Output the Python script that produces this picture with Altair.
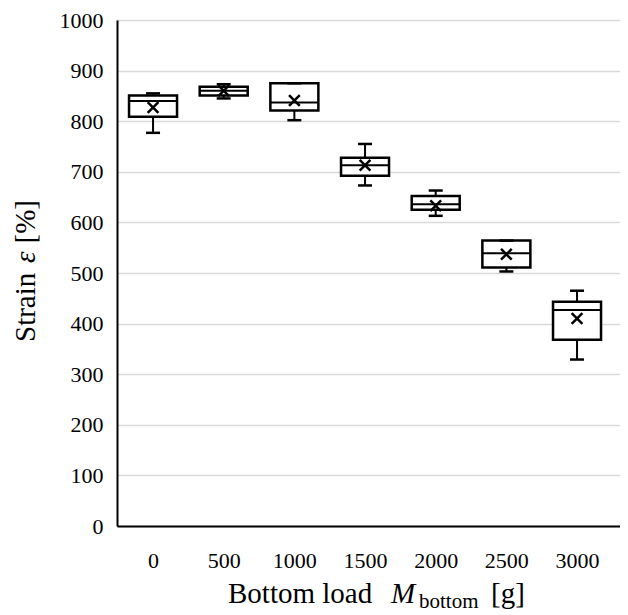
import altair as alt
import pandas as pd

# ---- data ----
loads = [0, 500, 1000, 1500, 2000, 2500, 3000]
whisker_low = [777, 845, 802, 673, 613, 503, 329]
q1 = [809, 851, 821, 692, 625, 511, 368]
median = [840, 860, 837, 713, 636, 539, 427]
q3 = [851, 868, 875, 728, 652, 564, 443]
whisker_high = [855, 873, 875, 755, 663, 564, 465]
mean = [827, 860, 841, 713, 633, 537, 410]
y_ticks = list(range(0, 1001, 100))

df = pd.DataFrame({
    "load": loads, "lo": whisker_low, "q1": q1, "med": median,
    "q3": q3, "hi": whisker_high, "mean": mean,
})

FONT = "Liberation Serif"

x_scale = alt.Scale(domain=[-255, 3304], nice=False, zero=False)
y_scale = alt.Scale(domain=[0, 1000], nice=False)

x_axis = alt.Axis(values=loads, format="d", title=None, grid=False,
                  ticks=False, labelPadding=24, labelFlush=False,
                  labelFont=FONT, labelFontSize=22, labelColor="black",
                  domainColor="black", domainWidth=2)
y_axis = alt.Axis(values=y_ticks, format="d", title=None, grid=True,
                  ticks=False, labelPadding=14,
                  labelFont=FONT, labelFontSize=22, labelColor="black",
                  domainColor="black", domainWidth=2,
                  gridColor="#d9d9d9", gridWidth=1.5)

base = alt.Chart(df)

whisk = base.mark_rule(color="black", strokeWidth=2).encode(
    x=alt.X("load:Q", scale=x_scale, axis=x_axis),
    y=alt.Y("lo:Q", scale=y_scale, axis=y_axis),
    y2="hi:Q")

box = base.mark_rect(fill="white", stroke="black", strokeWidth=2.5,
                     xOffset=-24, x2Offset=24).encode(
    x=alt.X("load:Q", scale=x_scale, axis=x_axis), x2="load:Q",
    y=alt.Y("q1:Q", scale=y_scale, axis=y_axis), y2="q3:Q")

med = base.mark_rule(color="black", strokeWidth=2,
                     xOffset=-24, x2Offset=24).encode(
    x=alt.X("load:Q", scale=x_scale, axis=x_axis), x2="load:Q",
    y=alt.Y("med:Q", scale=y_scale, axis=y_axis))

cap_lo = base.mark_rule(color="black", strokeWidth=2.5,
                        xOffset=-7, x2Offset=7).encode(
    x=alt.X("load:Q", scale=x_scale, axis=x_axis), x2="load:Q",
    y=alt.Y("lo:Q", scale=y_scale, axis=y_axis))

cap_hi = base.mark_rule(color="black", strokeWidth=2.5,
                        xOffset=-7, x2Offset=7).encode(
    x=alt.X("load:Q", scale=x_scale, axis=x_axis), x2="load:Q",
    y=alt.Y("hi:Q", scale=y_scale, axis=y_axis))

mean_pt = base.mark_point(shape="M-1,-1L1,1M1,-1L-1,1", size=115,
                          strokeWidth=2.5, color="black", filled=False,
                          opacity=1).encode(
    x=alt.X("load:Q", scale=x_scale, axis=x_axis),
    y=alt.Y("mean:Q", scale=y_scale, axis=y_axis))

one = pd.DataFrame({"k": [0]})

def txt(text, x, y, size=29, style="normal", align="left", angle=0):
    return alt.Chart(one).mark_text(
        text=text, font=FONT, fontSize=size, fontStyle=style, align=align,
        baseline="alphabetic", angle=angle, color="black").encode(
        x=alt.value(x), y=alt.value(y))

# y-axis title (rotated), pieces: "Strain", italic ε, "[%]"
yt1 = txt("Strain", -82, 322, angle=270)
yt2 = txt("ε", -82, 243, style="italic", angle=270)
yt3 = txt("[%]", -82, 180, align="right", angle=270)

# x-axis title pieces
xt1 = txt("Bottom load", 111, 583)
xt2 = txt("M", 274, 583, style="italic")
xt3 = txt("bottom", 302, 588, size=21)
xt4 = txt("[g]", 374, 583)

chart = alt.layer(
    whisk, box, med, cap_lo, cap_hi, mean_pt,
    yt1, yt2, yt3, xt1, xt2, xt3, xt4
).properties(
    width=503, height=506,
    autosize=alt.AutoSizeParams(type="none"),
    padding={"left": 109, "top": 12, "right": 0, "bottom": 87},
).configure(
    background="white",
    view=alt.ViewConfig(stroke=None),
)

chart.save("out.html", embed_options={"renderer": "svg", "actions": False})
